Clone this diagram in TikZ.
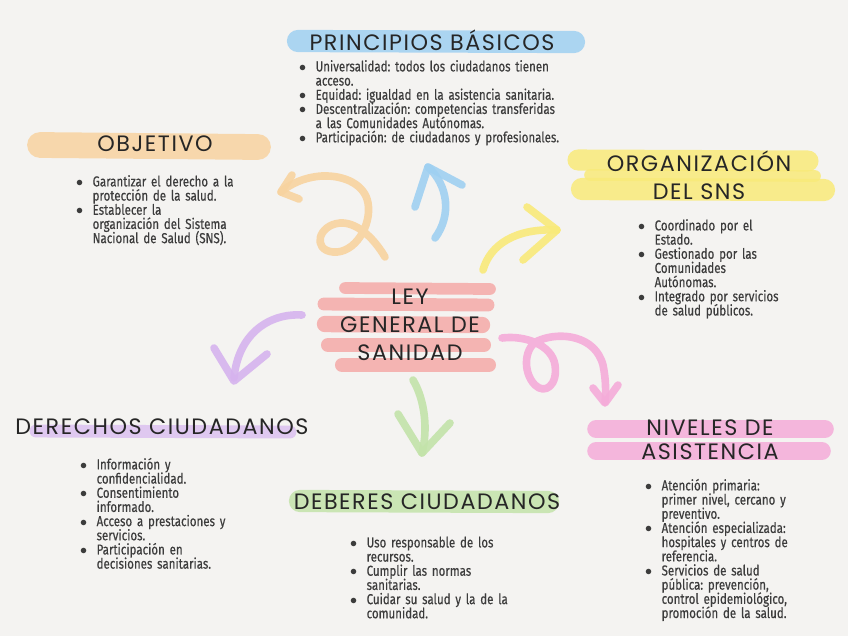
\documentclass[tikz,border=0pt]{standalone}
\usepackage{fontspec}
\setmainfont{Fira Sans}
\newfontfamily\bodyfont[FakeStretch=0.8, FakeBold=0.35]{Fira Sans}
\newfontfamily\headfont[LetterSpace=7]{Poppins}
\usetikzlibrary{positioning}
\definecolor{Paper}{HTML}{F4F3F1}
\definecolor{Ink}{HTML}{262626}
\definecolor{Sky}{HTML}{9FD0F2}
\definecolor{Peach}{HTML}{F8D3A0}
\definecolor{Lemon}{HTML}{F9EA7A}
\definecolor{Rose}{HTML}{F5AAA8}
\definecolor{Lilac}{HTML}{D6B3EE}
\definecolor{LilacPale}{HTML}{DCC1F0}
\definecolor{Mint}{HTML}{C3E3AA}
\definecolor{Candy}{HTML}{F4ACD9}
\newcommand{\entry}[1]{\par\setlength{\parskip}{0pt}\lineskiplimit=-20pt\frenchspacing
  \hangindent=14pt\hangafter=1\noindent\makebox[14pt][l]{$\bullet$}#1\par}

\begin{document}
\begin{tikzpicture}[x=0.03cm, y=-0.03cm,
  heading/.style={font=\headfont\fontsize{19}{24}\selectfont, text=Ink, align=center, inner sep=0pt},
  bodytext/.style={font=\bodyfont\fontsize{12.3}{12.1}\selectfont, text=Ink!90, anchor=north west, inner sep=0pt, text width=8cm},
  marker/.style={line cap=round, opacity=0.85},
  swirl/.style={line width=6.5pt, line cap=round, line join=round, opacity=0.9}]
  \fill[Paper] (0,0) rectangle (848,636);
  \useasboundingbox (0,0) rectangle (848,636);
  % highlighter bands
  \draw[marker, Sky, line width=19pt] (298,41) -- (574,42);
  \draw[marker, Peach, line width=22pt] (40,145) -- (258,147);
  \draw[marker, Lemon, line width=18pt] (578,160) -- (808,161);
  \draw[marker, Lemon, line width=10pt] (590,175) -- (815,176);
  \draw[marker, Lemon, line width=19pt] (582,189) -- (824,190);
  \draw[marker, Rose, line width=10pt] (345,288) -- (490,289);
  \draw[marker, Rose, line width=11pt] (324,304) -- (488,305);
  \draw[marker, Rose, line width=14pt] (325,324) -- (482,325);
  \draw[marker, Rose, line width=12pt] (328,345) -- (484,345);
  \draw[marker, Rose, line width=12pt] (342,365) -- (489,365);
  \draw[marker, LilacPale, line width=11pt] (36,431) -- (290,432);
  \draw[marker, Mint, line width=19pt] (300,501) -- (548,502);
  \draw[marker, Candy, line width=15pt] (596,429) -- (825,429);
  \draw[marker, Candy, line width=15pt] (596,451) -- (822,451);
  % swirly arrows out of the centre
  \draw[swirl, Peach] (385,257) .. controls (372,235) and (355,222) .. (340,223) .. controls (318,225) and (312,250) .. (333,252) .. controls (355,254) and (372,225) .. (368,203) .. controls (365,185) and (345,175) .. (322,176) .. controls (305,177) and (290,184) .. (281,192);
  \draw[swirl, Peach] (292,175) -- (281,192) -- (299,199);
  \draw[swirl, Sky] (435,238) .. controls (452,215) and (448,185) .. (428,167);
  \draw[swirl, Sky] (415,207) -- (428,167) -- (462,185);
  \draw[swirl, Lemon] (483,270) .. controls (490,245) and (515,228) .. (557,230);
  \draw[swirl, Lemon] (527,207) -- (557,230) -- (523,260);
  \draw[swirl, Lilac] (302,315) .. controls (268,313) and (238,335) .. (234,378);
  \draw[swirl, Lilac] (214,348) -- (234,381) -- (267,354);
  \draw[swirl, Mint] (413,380) .. controls (425,400) and (428,430) .. (422,453);
  \draw[swirl, Mint] (398,414) -- (422,453) -- (450,423);
  \draw[swirl, Candy] (502,338) .. controls (525,335) and (552,345) .. (555,365) .. controls (558,385) and (545,395) .. (535,385) .. controls (522,372) and (524,345) .. (540,340) .. controls (560,332) and (595,335) .. (603,365) .. controls (606,380) and (606,392) .. (605,402);
  \draw[swirl, Candy] (593,388) -- (605,403) -- (618,385);
  % headings
  \node[heading] (ley) at (410,325) {LEY\\GENERAL DE\\SANIDAD};
  \node[heading] (principios) at (432,40) {PRINCIPIOS BÁSICOS};
  \node[heading] (objetivo) at (155,144) {OBJETIVO};
  \node[heading] (organizacion) at (699,175) {ORGANIZACIÓN\\DEL SNS};
  \node[heading] (derechos) at (162,427) {DERECHOS CIUDADANOS};
  \node[heading] (deberes) at (427,502) {DEBERES CIUDADANOS};
  \node[heading] (niveles) at (710,440) {NIVELES DE\\[-3.4pt]ASISTENCIA};
  % bullet lists
  \node[bodytext] (principiosList) at (299,57) {%
    \entry{Universalidad: todos los ciudadanos tienen\newline acceso.}
    \entry{Equidad: igualdad en la asistencia sanitaria.}
    \entry{Descentralización: competencias transferidas\newline a las Comunidades Autónomas.}
    \entry{Participación: de ciudadanos y profesionales.}};
  \node[bodytext] (objetivoList) at (76,172) {%
    \entry{Garantizar el derecho a la\newline protección de la salud.}
    \entry{Establecer la\newline organización del Sistema\newline Nacional de Salud (SNS).}};
  \node[bodytext] (organizacionList) at (638,216) {%
    \entry{Coordinado por el\newline Estado.}
    \entry{Gestionado por las\newline Comunidades\newline Autónomas.}
    \entry{Integrado por servicios\newline de salud públicos.}};
  \node[bodytext] (derechosList) at (80,455) {%
    \entry{Información y\newline confidencialidad.}
    \entry{Consentimiento\newline informado.}
    \entry{Acceso a prestaciones y\newline servicios.}
    \entry{Participación en\newline decisiones sanitarias.}};
  \node[bodytext] (deberesList) at (350,533) {%
    \entry{Uso responsable de los\newline recursos.}
    \entry{Cumplir las normas\newline sanitarias.}
    \entry{Cuidar su salud y la de la\newline comunidad.}};
  \node[bodytext] (nivelesList) at (645,476) {%
    \entry{Atención primaria:\newline primer nivel, cercano y\newline preventivo.}
    \entry{Atención especializada:\newline hospitales y centros de\newline referencia.}
    \entry{Servicios de salud\newline pública: prevención,\newline control epidemiológico,\newline promoción de la salud.}};
\end{tikzpicture}
\end{document}
